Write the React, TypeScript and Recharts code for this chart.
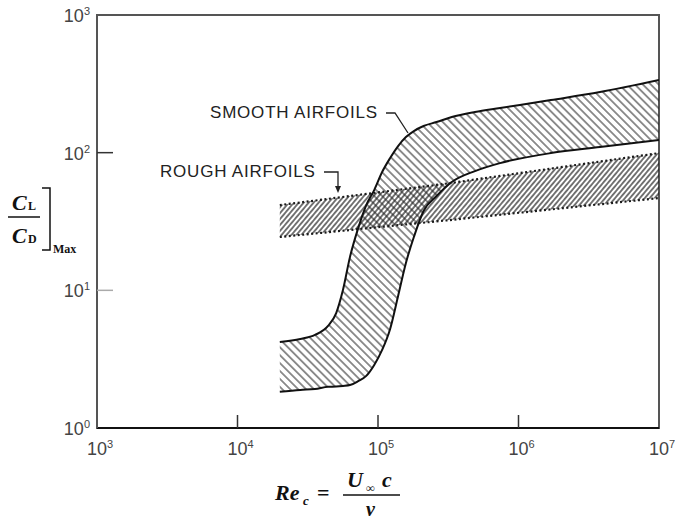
import { ComposedChart, Area, XAxis, YAxis, ReferenceArea } from 'recharts';

// Reynolds numbers sampled along the smooth-airfoil band
const reSmooth = [20000, 28000, 35600, 44100, 50400, 56300, 63200, 72300, 82500, 94000, 107000, 122000, 139000, 158000, 180000, 211000, 261000, 335000, 490000, 740000, 1700000, 3800000, 10000000];
const smoothUpper = [4.21, 4.43, 4.74, 5.51, 6.84, 10.05, 17.5, 28.3, 41.6, 53.5, 72.3, 91.4, 111.7, 129.8, 143.5, 156.1, 166.8, 181.4, 197.2, 210.8, 241, 275.5, 336.7];
const smoothLower = [1.83, 1.89, 1.92, 1.99, 2.0, 2.02, 2.05, 2.19, 2.39, 2.87, 3.69, 5.24, 9.09, 15.8, 24.4, 37.7, 48.4, 61.2, 73.5, 84.0, 99.3, 109.8, 123.4];

// rough-airfoil band
const reRough = [20000, 325000, 10000000];
const roughLower = [24.4, 32.4, 46.8];
const roughUpper = [41.6, 60.1, 99.3];

const xTicks = [1e3, 1e4, 1e5, 1e6, 1e7];
const yTicks = [1, 10, 100, 1000];

const smoothData = reSmooth.map((re, i) => ({ re, band: [smoothLower[i], smoothUpper[i]] }));
const roughData = reRough.map((re, i) => ({ re, band: [roughLower[i], roughUpper[i]] }));

const sans = '"Liberation Sans", Arial, sans-serif';
const serif = '"Liberation Serif", "Times New Roman", serif';

function XTick({ x, y, payload }: any) {
  const exp = Math.round(Math.log10(payload.value));
  const inner = exp > 3 && exp < 7;
  return (
    <g>
      {inner && <line x1={x} y1={y} x2={x} y2={y - 13} stroke="#333" strokeWidth={1.5} />}
      <text x={x - 10} y={y + 27} fontFamily={sans} fontSize={18} fill="#444">
        10<tspan dy={-7} fontSize={11}>{exp}</tspan>
      </text>
    </g>
  );
}

function YTick({ x, y, payload }: any) {
  const exp = Math.round(Math.log10(payload.value));
  const inner = exp > 0 && exp < 3;
  return (
    <g>
      {inner && <line x1={x} y1={y} x2={x + 16} y2={y} stroke={exp === 1 ? '#aaa' : '#333'} strokeWidth={1.5} />}
      <text x={x - 7} y={y + 7} textAnchor="end" fontFamily={sans} fontSize={18} fill="#444">
        10<tspan dy={-7} fontSize={11}>{exp}</tspan>
      </text>
    </g>
  );
}

export default function App() {
  return (
    <div style={{ position: 'absolute', left: 0, top: 0, background: '#fff' }}>
      <ComposedChart width={675} height={519} margin={{ top: 15, right: 16, bottom: 0, left: 0 }}>
        <defs>
          <pattern id="smoothHatch" patternUnits="userSpaceOnUse" width={5.6} height={5.6} patternTransform="rotate(-45)">
            <line x1={2.8} y1={0} x2={2.8} y2={5.6} stroke="#222" strokeWidth={1} />
          </pattern>
          <pattern id="roughHatch" patternUnits="userSpaceOnUse" width={3.8} height={3.8} patternTransform="rotate(40)">
            <line x1={1.9} y1={0} x2={1.9} y2={3.8} stroke="#1a1a1a" strokeWidth={1.2} />
          </pattern>
        </defs>
        <XAxis
          dataKey="re"
          type="number"
          scale="log"
          domain={[1e3, 1e7]}
          ticks={xTicks}
          interval={0}
          height={91}
          tickSize={0}
          tickMargin={0}
          tick={<XTick />}
          axisLine={{ stroke: '#111', strokeWidth: 2 }}
          allowDataOverflow
        />
        <YAxis
          type="number"
          scale="log"
          domain={[1, 1000]}
          ticks={yTicks}
          interval={0}
          width={97}
          tickSize={0}
          tickMargin={0}
          tick={<YTick />}
          axisLine={{ stroke: '#555', strokeWidth: 2 }}
          allowDataOverflow
        />
        <ReferenceArea x1={1e3} x2={1e7} y1={1} y2={1000} fill="none" stroke="#555" strokeWidth={2} />
        <Area
          data={roughData}
          dataKey="band"
          type="linear"
          fill="url(#roughHatch)"
          fillOpacity={1}
          stroke="#1a1a1a"
          strokeWidth={2.2}
          strokeDasharray="2 2.5"
          isAnimationActive={false}
          dot={false}
          activeDot={false}
        />
        <Area
          data={smoothData}
          dataKey="band"
          type="monotone"
          fill="url(#smoothHatch)"
          fillOpacity={1}
          stroke="#111"
          strokeWidth={2}
          isAnimationActive={false}
          dot={false}
          activeDot={false}
        />

        {/* annotations */}
        <text x={210} y={118} fontFamily={sans} fontSize={17} letterSpacing={0.8} fill="#222">SMOOTH AIRFOILS</text>
        <path d="M386 113 H395 L408 133" fill="none" stroke="#222" strokeWidth={1.3} />
        <text x={160} y={177} fontFamily={sans} fontSize={17} letterSpacing={0.8} fill="#222">ROUGH AIRFOILS</text>
        <path d="M324 172 H338 V187" fill="none" stroke="#222" strokeWidth={1.3} />
        <path d="M335 186 L341 186 L338 193 Z" fill="#222" />

        {/* y axis title */}
        <text x={12} y={210} fontFamily={serif} fontWeight="bold" fontStyle="italic" fontSize={22} fill="#111">C</text>
        <text x={28} y={210} fontFamily={serif} fontWeight="bold" fontSize={12} fill="#111">L</text>
        <line x1={8} y1={217} x2={40} y2={217} stroke="#111" strokeWidth={1.5} />
        <text x={12} y={243} fontFamily={serif} fontWeight="bold" fontStyle="italic" fontSize={22} fill="#111">C</text>
        <text x={28} y={243} fontFamily={serif} fontWeight="bold" fontSize={12} fill="#111">D</text>
        <path d="M42 188 H50 V250 H42" fill="none" stroke="#111" strokeWidth={1.5} />
        <text x={53} y={253} fontFamily={serif} fontWeight="bold" fontSize={12} fill="#111">Max</text>

        {/* x axis title */}
        <text x={275} y={500} fontFamily={serif} fontWeight="bold" fontStyle="italic" fontSize={22} fill="#111">Re</text>
        <text x={303} y={505} fontFamily={serif} fontWeight="bold" fontStyle="italic" fontSize={13} fill="#111">c</text>
        <text x={317} y={500} fontFamily={serif} fontWeight="bold" fontSize={22} fill="#111">=</text>
        <text x={347} y={487} fontFamily={serif} fontWeight="bold" fontStyle="italic" fontSize={22} fill="#111">U</text>
        <text x={366} y={492} fontFamily={serif} fontWeight="bold" fontSize={12} fill="#111">∞</text>
        <text x={382} y={487} fontFamily={serif} fontWeight="bold" fontStyle="italic" fontSize={22} fill="#111">c</text>
        <line x1={343} y1={495} x2={400} y2={495} stroke="#111" strokeWidth={1.5} />
        <text x={366} y={516} fontFamily={serif} fontWeight="bold" fontStyle="italic" fontSize={20} fill="#111">ν</text>
      </ComposedChart>
    </div>
  );
}
